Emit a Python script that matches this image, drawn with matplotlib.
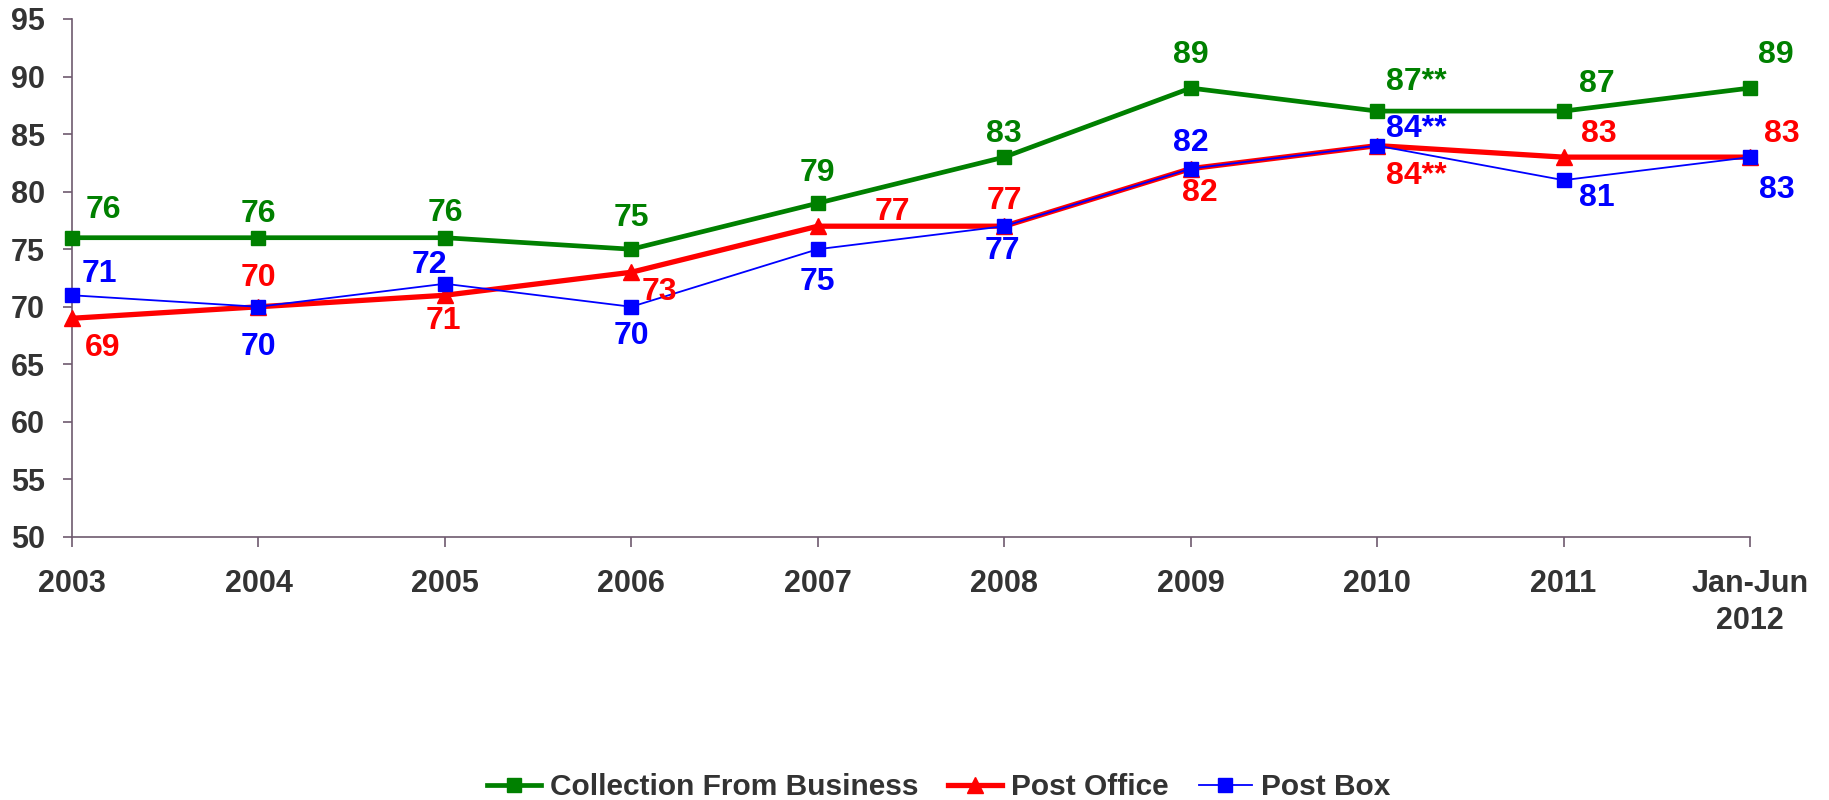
import matplotlib.pyplot as plt

plt.rcParams['font.family'] = ['Liberation Sans', 'DejaVu Sans']
plt.rcParams['font.weight'] = 'bold'

# donnees
annees = ['2003', '2004', '2005', '2006', '2007', '2008', '2009', '2010', '2011', 'Jan-Jun\n2012']
collection = [76, 76, 76, 75, 79, 83, 89, 87, 87, 89]
post_office = [69, 70, 71, 73, 77, 77, 82, 84, 83, 83]
post_box = [71, 70, 72, 70, 75, 77, 82, 84, 81, 83]

# textes des etiquettes (** = difference significative)
etiq_collection = ['76', '76', '76', '75', '79', '83', '89', '87**', '87', '89']
etiq_office = ['69', '70', '71', '73', '77', '77', '82', '84**', '83', '83']
etiq_box = ['71', '70', '72', '70', '75', '77', '82', '84**', '81', '83']

# decalages des etiquettes en pixels (dx, dy)
dec_collection = [(31, 28), (0, 24), (0, 25), (0, 31), (0, 30), (0, 23), (0, 33), (39, 29), (33, 27), (26, 33)]
dec_office = [(31, -30), (0, 29), (-2, -26), (28, -20), (75, 14), (0, 25), (9, -24), (39, -30), (35, 23), (32, 23)]
dec_box = [(27, 21), (0, -40), (-16, 19), (0, -29), (0, -33), (-2, -25), (0, 26), (39, 17), (33, -18), (27, -33)]

VERT = '#008000'
ROUGE = '#ff0000'
BLEU = '#0000ff'
GRIS = '#333333'
AXE = '#6e5a6e'

fig = plt.figure(figsize=(18.29, 8), dpi=100)
ax = fig.add_axes([72 / 1829, 1 - 537 / 800, (1750 - 72) / 1829, (537 - 19) / 800])

x = list(range(len(annees)))
ax.plot(x, collection, color=VERT, lw=3.4, marker='s', ms=10, label='Collection From Business', clip_on=False, zorder=3)
ax.plot(x, post_office, color=ROUGE, lw=3.8, marker='^', ms=11, label='Post Office', clip_on=False, zorder=4)
ax.plot(x, post_box, color=BLEU, lw=1.3, marker='s', ms=10, label='Post Box', clip_on=False, zorder=5)

for vals, etiqs, decs, coul in [(collection, etiq_collection, dec_collection, VERT),
                                (post_office, etiq_office, dec_office, ROUGE),
                                (post_box, etiq_box, dec_box, BLEU)]:
    for i in range(len(vals)):
        ax.annotate(etiqs[i], (x[i], vals[i]), xytext=decs[i], textcoords='offset pixels',
                    ha='center', va='center', fontsize=23, fontweight='bold', color=coul,
                    zorder=6, annotation_clip=False)

ax.set_xlim(0, len(annees) - 1)
ax.set_ylim(50, 95)
ax.set_yticks(range(50, 96, 5))
ax.set_xticks(x)
ax.set_xticklabels(annees)
for lab in ax.get_xticklabels():
    lab.set_linespacing(1.3)

ax.tick_params(axis='y', direction='out', length=6.5, width=1.2, color=AXE, labelsize=22,
               labelcolor=GRIS, pad=13)
ax.tick_params(axis='x', direction='out', length=7, width=1.2, color=AXE, labelsize=22,
               labelcolor=GRIS, pad=16)

for cote in ['top', 'right']:
    ax.spines[cote].set_visible(False)
for cote in ['left', 'bottom']:
    ax.spines[cote].set_color(AXE)
    ax.spines[cote].set_linewidth(1.2)

leg = fig.legend(loc='center', bbox_to_anchor=(939 / 1829, 1 - 787 / 800), ncol=3, frameon=False,
                 fontsize=21.5, handlelength=1.8, handletextpad=0.3, columnspacing=1.0, numpoints=1)
for t in leg.get_texts():
    t.set_color(GRIS)

fig.savefig('out.png', dpi=100)
